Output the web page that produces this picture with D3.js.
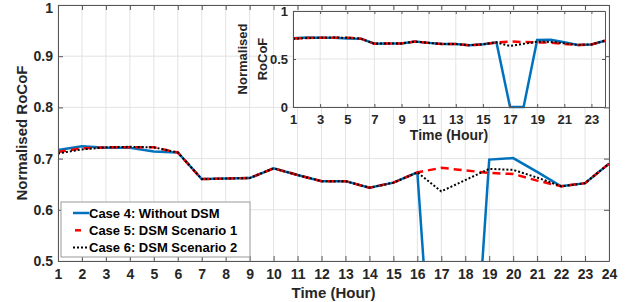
<!DOCTYPE html>
<meta charset="utf-8">
<style>
body { margin: 0; background: #fff; }
svg { font-family: "Liberation Sans", Arial, sans-serif; font-weight: bold; }
.grid line { stroke: #e3e3e3; stroke-width: 1px; }
.axis path, .axis line { stroke: #555; }
.axis text { fill: #262626; font-weight: bold; }
.case4 { fill: none; stroke: #0072bd; stroke-width: 2.5px; }
.case5 { fill: none; stroke: #ff0000; stroke-width: 2.5px; stroke-dasharray: 8 5; }
.case6 { fill: none; stroke: #000; stroke-width: 2px; stroke-dasharray: 2 2; }
</style>
<svg width="626" height="302"></svg>
<script src="https://d3js.org/d3.v7.min.js"></script>
<script>
var hours = d3.range(1, 25);
var case4 = [0.717, 0.724, 0.721, 0.721, 0.714, 0.712, 0.660, 0.661, 0.662, 0.681, 0.668, 0.656, 0.656, 0.643, 0.653, 0.673, 0, 0, 0.698, 0.701, 0.674, 0.646, 0.652, 0.690];
var case5 = [0.713, 0.720, 0.722, 0.722, 0.722, 0.712, 0.660, 0.661, 0.662, 0.681, 0.668, 0.656, 0.656, 0.643, 0.653, 0.673, 0.682, 0.677, 0.672, 0.670, 0.657, 0.646, 0.652, 0.690];
var case6 = [0.710, 0.718, 0.722, 0.723, 0.722, 0.712, 0.660, 0.661, 0.662, 0.681, 0.668, 0.656, 0.656, 0.643, 0.653, 0.673, 0.636, 0.658, 0.680, 0.678, 0.663, 0.646, 0.652, 0.690];
var names = ["Case 4: Without DSM", "Case 5: DSM Scenario 1", "Case 6: DSM Scenario 2"];
var mainYTicks = [0.5, 0.6, 0.7, 0.8, 0.9, 1];
var insetXTicks = [1, 3, 5, 7, 9, 11, 13, 15, 17, 19, 21, 23];
var insetYTicks = [0, 0.5, 1];

var svg = d3.select("svg");
var series = [case4, case5, case6];
var cls = ["case4", "case5", "case6"];

// ---- main axes ----
var m = {left: 58, right: 609, top: 5, bottom: 261};
var x = d3.scaleLinear().domain([1, 24]).range([m.left, m.right]),
    y = d3.scaleLinear().domain([0.5, 1]).range([m.bottom, m.top]);

svg.append("defs").append("clipPath").attr("id", "clipMain")
  .append("rect").attr("x", m.left).attr("y", m.top)
  .attr("width", m.right - m.left).attr("height", m.bottom - m.top);

var grid = svg.append("g").attr("class", "grid");
grid.selectAll(".gx").data(hours).enter().append("line")
    .attr("x1", d => x(d)).attr("x2", d => x(d))
    .attr("y1", m.top).attr("y2", m.bottom);
grid.selectAll(".gy").data(mainYTicks).enter().append("line")
    .attr("x1", m.left).attr("x2", m.right)
    .attr("y1", d => y(d)).attr("y2", d => y(d));

var line = d3.line().x((d, i) => x(hours[i])).y(d => y(d));
var lines = svg.append("g").attr("clip-path", "url(#clipMain)");
series.forEach(function(s, i) {
  lines.append("path").datum(s).attr("class", cls[i]).attr("d", line);
});

svg.append("g").attr("class", "axis")
    .attr("transform", "translate(0," + m.bottom + ")")
    .call(d3.axisBottom(x).tickValues(hours).tickFormat(d3.format("d")).tickSize(-5).tickPadding(8).tickSizeOuter(0))
    .selectAll("text").style("font-size", "14px");
svg.append("g").attr("class", "axis")
    .attr("transform", "translate(0," + m.top + ")")
    .call(d3.axisTop(x).tickValues(hours).tickFormat("").tickSize(-5).tickSizeOuter(0));
svg.append("g").attr("class", "axis")
    .attr("transform", "translate(" + m.left + ",0)")
    .call(d3.axisLeft(y).tickValues(mainYTicks).tickFormat(d => d === 1 || d === 0.5 ? d3.format("")(d) : d.toFixed(1)).tickSize(-5).tickPadding(5).tickSizeOuter(0))
    .selectAll("text").style("font-size", "14px")
    .attr("dy", d => d === 1 ? "0.55em" : "0.32em");
svg.append("g").attr("class", "axis")
    .attr("transform", "translate(" + m.right + ",0)")
    .call(d3.axisRight(y).tickValues(mainYTicks).tickFormat("").tickSize(-5).tickSizeOuter(0));

svg.append("text").attr("x", (m.left + m.right) / 2).attr("y", 298)
    .attr("text-anchor", "middle").style("font-size", "15px").attr("fill", "#262626")
    .text("Time (Hour)");
svg.append("text").attr("transform", "translate(27," + (m.top + m.bottom) / 2 + ") rotate(-90)")
    .attr("text-anchor", "middle").style("font-size", "15px").attr("fill", "#262626")
    .text("Normalised RoCoF");

// ---- legend ----
var lg = svg.append("g").attr("transform", "translate(61,202)");
lg.append("rect").attr("width", 189).attr("height", 55)
    .attr("fill", "#fff").attr("stroke", "#999").attr("stroke-width", 1);
names.forEach(function(n, i) {
  var yy = 11 + i * 17.3;
  lg.append("line").attr("class", cls[i])
    .attr("x1", i === 1 ? 14 : 12).attr("x2", i === 1 ? 20 : 28)
    .attr("y1", yy).attr("y2", yy)
    .style("stroke-dasharray", i === 1 ? "none" : null);
  lg.append("text").attr("x", 28).attr("y", yy).attr("dy", "0.35em")
    .style("font-size", "13px").attr("fill", "#000").text(n);
});

// ---- inset ----
var n = {left: 293, right: 605, top: 11, bottom: 107};
var xi = d3.scaleLinear().domain([1, 24]).range([n.left, n.right]),
    yi = d3.scaleLinear().domain([0, 1]).range([n.bottom, n.top]);

svg.append("rect").attr("x", n.left).attr("y", n.top)
    .attr("width", n.right - n.left).attr("height", n.bottom - n.top).attr("fill", "#fff");
var gi = svg.append("g").attr("class", "grid");
gi.selectAll(".gx").data(insetXTicks).enter().append("line")
    .attr("x1", d => xi(d)).attr("x2", d => xi(d))
    .attr("y1", n.top).attr("y2", n.bottom);
gi.selectAll(".gy").data(insetYTicks).enter().append("line")
    .attr("x1", n.left).attr("x2", n.right)
    .attr("y1", d => yi(d)).attr("y2", d => yi(d));

var lineI = d3.line().x((d, i) => xi(hours[i])).y(d => yi(d));
series.forEach(function(s, i) {
  svg.append("path").datum(s).attr("class", cls[i]).attr("d", lineI);
});

svg.append("g").attr("class", "axis")
    .attr("transform", "translate(0," + n.bottom + ")")
    .call(d3.axisBottom(xi).tickValues(insetXTicks).tickFormat(d3.format("d")).tickSize(-3).tickPadding(8).tickSizeOuter(0))
    .selectAll("text").style("font-size", "13px");
svg.append("g").attr("class", "axis")
    .attr("transform", "translate(0," + n.top + ")")
    .call(d3.axisTop(xi).tickValues(insetXTicks).tickFormat("").tickSize(-3).tickSizeOuter(0));
svg.append("g").attr("class", "axis")
    .attr("transform", "translate(" + n.left + ",0)")
    .call(d3.axisLeft(yi).tickValues(insetYTicks).tickFormat(d3.format("")).tickSize(-3).tickPadding(5).tickSizeOuter(0))
    .selectAll("text").style("font-size", "13px");
svg.append("g").attr("class", "axis")
    .attr("transform", "translate(" + n.right + ",0)")
    .call(d3.axisRight(yi).tickValues(insetYTicks).tickFormat("").tickSize(-3).tickSizeOuter(0));

svg.append("text").attr("x", (n.left + n.right) / 2).attr("y", 140)
    .attr("text-anchor", "middle").style("font-size", "14px").attr("fill", "#262626")
    .text("Time (Hour)");
svg.append("text").attr("transform", "translate(247," + (n.top + n.bottom) / 2 + ") rotate(-90)")
    .attr("text-anchor", "middle").style("font-size", "13px").attr("fill", "#262626")
    .text("Normalised");
svg.append("text").attr("transform", "translate(267," + (n.top + n.bottom) / 2 + ") rotate(-90)")
    .attr("text-anchor", "middle").style("font-size", "13px").attr("fill", "#262626")
    .text("RoCoF");
</script>
